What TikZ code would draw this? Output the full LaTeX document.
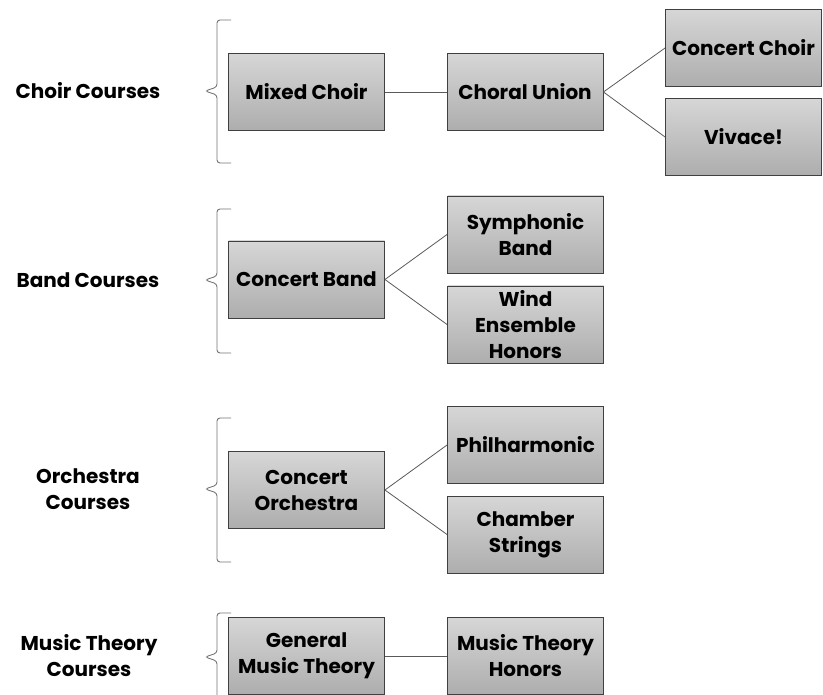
\documentclass[tikz,border=0pt]{standalone}
\usepackage{fontspec}
\setmainfont{Poppins}
\usetikzlibrary{positioning}

\tikzset{
    course/.style={draw=black!75, line width=0.9pt, top color=black!16, bottom color=black!32,
        minimum width=156pt, minimum height=77pt, inner sep=0pt, align=center,
        font=\bfseries\fontsize{20}{26}\selectfont},
    group/.style={align=center, font=\bfseries\fontsize{20}{26}\selectfont},
    link/.style={draw=black!65, line width=0.8pt},
    bracket/.style={draw=black!55, line width=0.9pt, rounded corners=3pt},
}

\begin{document}
\begin{tikzpicture}[x=1pt, y=-1pt]

    \useasboundingbox (0,0) rectangle (823,695);

    % group labels
    \node[group] (choirlbl) at (88,91) {Choir Courses};
    \node[group] (bandlbl) at (88,280) {Band Courses};
    \node[group] (orchlbl) at (88,489) {Orchestra\\Courses};
    \node[group] (theorylbl) at (89,656) {Music Theory\\Courses};

    % brackets
    \path[bracket] (231,20) -- (217,20) -- (217,87) -- (205,91) -- (217,95) -- (217,163) -- (231,163);
    \path[bracket] (231,209) -- (217,209) -- (217,276) -- (205,280) -- (217,284) -- (217,353) -- (231,353);
    \path[bracket] (231,418) -- (217,418) -- (217,485) -- (205,489) -- (217,493) -- (217,562) -- (231,562);
    \path[bracket] (231,613) -- (217,613) -- (217,653) -- (205,657) -- (217,661) -- (217,730) -- (231,730);

    % choir
    \node[course] (mixed) at (306.5,92) {Mixed Choir};
    \node[course] (choral) at (525,92) {Choral Union};
    \node[course] (concertchoir) at (743.5,48) {Concert Choir};
    \node[course] (vivace) at (743.5,137) {Vivace!};

    % band
    \node[course] (concertband) at (306.5,279.5) {Concert Band};
    \node[course] (symphonic) at (525.5,234.5) {Symphonic\\Band};
    \node[course] (wind) at (525.5,324.5) {Wind\\Ensemble\\Honors};

    % orchestra
    \node[course] (concertorch) at (306.5,490) {Concert\\Orchestra};
    \node[course] (philharmonic) at (525.5,445) {Philharmonic};
    \node[course] (chamber) at (525.5,534.5) {Chamber\\Strings};

    % music theory
    \node[course] (general) at (306.5,656) {General\\Music Theory};
    \node[course] (theoryhon) at (525.5,656) {Music Theory\\Honors};

    \path[link] (mixed) -- (choral);
    \path[link] (choral.east) -- (concertchoir.west);
    \path[link] (choral.east) -- (vivace.west);
    \path[link] (concertband.east) -- (symphonic.west);
    \path[link] (concertband.east) -- (wind.west);
    \path[link] (concertorch.east) -- (philharmonic.west);
    \path[link] (concertorch.east) -- (chamber.west);
    \path[link] (general) -- (theoryhon);

\end{tikzpicture}
\end{document}
